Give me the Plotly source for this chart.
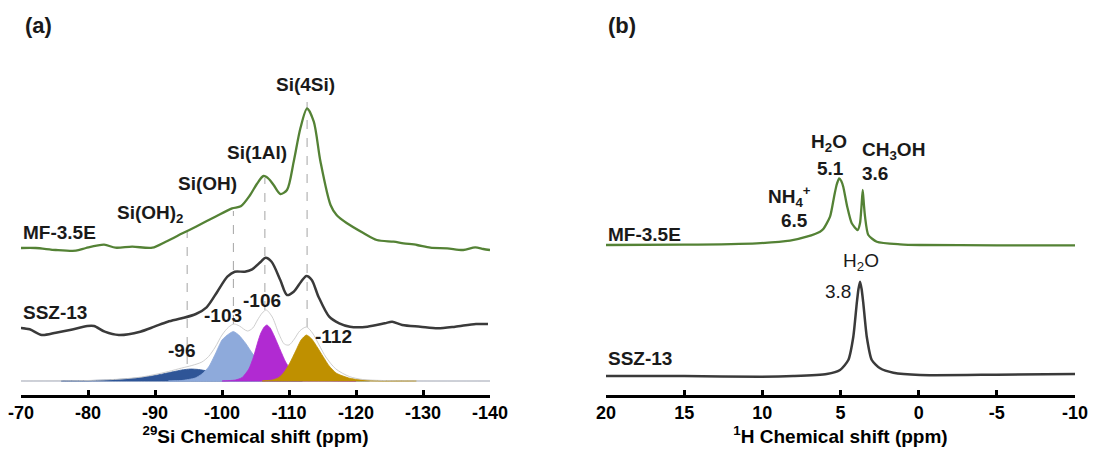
import plotly.graph_objects as go

# ---------------- Panel (a): 29Si MAS NMR ----------------
si_ticks = [-70, -80, -90, -100, -110, -120, -130, -140]
si_tick_text = ["-70", "-80", "-90", "-100", "-110", "-120", "-130", "-140"]

# MF-3.5E experiment (intensity above its own baseline)
si_mf_ppm = [-70, -72.2, -75.2, -78.2, -79.7, -82.4, -84.1, -86.6, -89.6, -91.6, -94.1, -96.1,
             -99.0, -101.5, -102.8, -104.2, -105.2, -106.2, -107.0, -107.7, -108.7, -109.7,
             -110.7, -111.7, -112.7, -113.7, -114.7, -116.2, -117.1, -118.6, -121.1, -123.1,
             -125.6, -127.1, -129.1, -131.1, -133.6, -136.0, -137.8, -139.0, -140]
si_mf_int = [0, 0, -2, -2.7, 0, 3.3, 0.3, 1.3, 0.3, 6.3, 14.7, 21.3,
             31.3, 39.7, 41.7, 53, 64, 72, 69, 63, 54, 58,
             86.3, 119.7, 139.7, 126.3, 86.3, 43, 33, 25, 15, 8,
             6.3, 4.7, 3, 0.3, -0.3, -2, 0.7, -1, -2]

# SSZ-13 experiment
si_ssz_ppm = [-69.7, -71.3, -73.1, -75.2, -77.3, -79.9, -80.9, -82.5, -84.6, -87.8, -89.9, -91.9,
              -94.0, -96.1, -97.7, -99.3, -100.8, -101.9, -103.4, -104.5, -105.8, -106.5, -107.4,
              -108.7, -109.7, -110.7, -111.8, -112.6, -113.4, -114.4, -116.0, -117.5, -119.1,
              -121.7, -124.3, -125.4, -126.9, -129.6, -132.2, -134.8, -137.9, -139.7]
si_ssz_int = [0.3, -1.3, -7, -4.7, -2, 2, 2, -3.7, -7, -3.7, 1.3, 6.3,
              9.7, 14, 20.7, 36.3, 51.3, 56.3, 56.3, 58.7, 66.3, 70.3, 66.3,
              48, 33, 36.3, 46.3, 52, 48, 31.3, 11.3, 4.7, 1.3,
              1.3, 4.7, 6.3, 3, 1.3, -0.3, 1.3, 4, 4]

# Simulation components
q96_ppm = [-76, -80, -83, -86, -88, -90, -92, -94, -95.3, -96.5, -98, -99.5, -101, -103, -105, -108, -112]
q96_int = [0, 0.4, 1.0, 2.2, 3.5, 5.5, 8.3, 11, 12, 11.5, 9.8, 7.5, 4.8, 2.2, 0.8, 0.2, 0]

q103_ppm = [-92, -94, -96, -97, -98, -99, -100, -101, -101.7, -102.5, -103.5, -104.5, -105.5,
            -106.5, -107.5, -108.5, -110, -112, -114, -118, -122]
q103_int = [0, 0.5, 3, 7, 14, 27, 41, 47, 49.5, 46, 38, 28, 20, 14, 9.5, 6.5, 3.8, 1.7, 0.6, 0.1, 0]

q106_ppm = [-100, -102, -103, -104, -104.7, -105.3, -105.8, -106.3, -106.7, -107.2, -107.8,
            -108.7, -109.5, -110.2, -111, -112.3, -114, -116, -120]
q106_int = [0, 1, 3.5, 12, 24, 38, 48, 54, 56, 53, 45, 31, 19, 12, 8, 4, 1.5, 0.5, 0]

q112_ppm = [-106, -107.5, -108.5, -109.3, -110.1, -111, -111.8, -112.6, -113.4, -114.2, -115.1,
            -116, -117.1, -119.1, -121.5, -125, -129]
q112_int = [0, 1, 3.5, 9, 17.7, 30, 41, 46, 42, 34, 24.3, 15, 7.7, 2.7, 0.7, 0.2, 0]

sim_ppm = [-70, -80, -85, -88, -90, -92, -94, -95.5, -97, -98, -99, -100, -101, -101.8, -102.6,
           -103.8, -104.6, -105.3, -106, -106.6, -107.5, -108.5, -109.3, -110, -110.8, -111.6,
           -112.6, -113.5, -114.5, -115.5, -117, -119, -121, -124, -130, -140]
sim_int = [0, 0.5, 2, 4, 6.5, 9.5, 13, 15.5, 19, 24.5, 34, 46, 54, 57, 55,
           50, 53, 61, 68, 71, 64, 47, 37, 36, 42, 50,
           54, 48, 36, 24, 12, 4.5, 1.5, 0.5, 0, 0]

# Peak marker positions (ppm) and label texts
si_peak_ppm = [-94.8, -101.7, -106.4, -112.7]
si_peak_lbl = ["-96", "-103", "-106", "-112"]
si_site_lbl = ["Si(OH)<sub>2</sub>", "Si(OH)", "Si(1Al)", "Si(4Si)"]

# ---------------- Panel (b): 1H MAS NMR ----------------
h_ticks = [20, 15, 10, 5, 0, -5, -10]
h_tick_text = ["20", "15", "10", "5", "0", "-5", "-10"]

h_mf_ppm = [20, 15, 10.36, 8.23, 7.16, 6.31, 6.10, 5.67, 5.41, 5.25, 5.09, 4.95, 4.82, 4.57, 4.28,
            3.90, 3.75, 3.66, 3.58, 3.50, 3.43, 3.22, 2.68, 1.19, -0.09, -5, -10]
h_mf_int = [0, 0.3, 1.7, 4.3, 8.3, 13.3, 16, 28.3, 48.3, 60, 66.7, 64, 58, 38.3, 21.7,
            15, 22, 38, 55, 40, 28.3, 10, 3.3, 0.7, 0, -0.3, -0.3]

h_ssz_ppm = [20, 15, 10.15, 8.02, 5.88, 5.03, 4.50, 4.18, 3.96, 3.85, 3.75, 3.65, 3.54, 3.32,
             3.00, 2.47, 1.62, -0.09, -5, -10]
h_ssz_int = [-1, -1, -1.7, -1, 1, 5, 15, 38.3, 71.7, 86, 93.3, 86, 71.7, 38.3,
             15, 6.7, 2.3, 0, 0.3, 1]

# ---------------- styling ----------------
GREEN = "#548235"
DARK = "#3a3a3a"
FONT = "Arial, Liberation Sans, sans-serif"
OFF_A_MF, OFF_A_SSZ, OFF_A_SIM = 147, 67, 14
OFF_B_MF, OFF_B_SSZ = 150, 20
YMAX = 395

fig = go.Figure()

def line(x, y, off, color, width, xa, ya, smooth=0.8):
    fig.add_trace(go.Scatter(x=x, y=[v + off for v in y], mode="lines", xaxis=xa, yaxis=ya,
                             line=dict(color=color, width=width, shape="spline", smoothing=smooth),
                             hoverinfo="skip", showlegend=False))

def filled(x, y, off, color):
    xs = list(x) + list(reversed(x))
    ys = [v + off for v in y] + [off] * len(x)
    fig.add_trace(go.Scatter(x=xs, y=ys, mode="lines", fill="toself", fillcolor=color,
                             line=dict(color=color, width=0.8, shape="spline", smoothing=0.6),
                             xaxis="x", yaxis="y", hoverinfo="skip", showlegend=False))

# dashed guide lines (a)
dash_top = [164, 184, 217, 295]
dash_bot = [31, 71, 85, 68]
for p, t, b in zip(si_peak_ppm, dash_top, dash_bot):
    fig.add_shape(type="line", xref="x", yref="y", x0=p, x1=p, y0=b, y1=t,
                  line=dict(color="#9a9a9a", width=0.9, dash="dash"), layer="below")

# faint simulation baseline
fig.add_trace(go.Scatter(x=[-70, -140], y=[OFF_A_SIM, OFF_A_SIM], mode="lines", xaxis="x", yaxis="y",
                         line=dict(color="#c3cadb", width=1.6), hoverinfo="skip", showlegend=False))
filled(q96_ppm, q96_int, OFF_A_SIM, "#2f5597")
filled(q103_ppm, q103_int, OFF_A_SIM, "#8eaadb")
filled(q106_ppm, q106_int, OFF_A_SIM, "#b12ad2")
filled(q112_ppm, q112_int, OFF_A_SIM, "#bf9000")
line(sim_ppm, sim_int, OFF_A_SIM, "#c8c8c8", 0.9, "x", "y")

line(si_mf_ppm, si_mf_int, OFF_A_MF, GREEN, 2.3, "x", "y")
line(si_ssz_ppm, si_ssz_int, OFF_A_SSZ, DARK, 2.5, "x", "y")

line(h_mf_ppm, h_mf_int, OFF_B_MF, GREEN, 2.3, "x2", "y2", 0.6)
line(h_ssz_ppm, h_ssz_int, OFF_B_SSZ, DARK, 2.5, "x2", "y2", 0.6)

ann = []
def txt(x, y, s, xr="x", yr="y", size=19, bold=True, color="#1a1a1a", xanchor="center"):
    ann.append(dict(x=x, y=y, xref=xr, yref=yr, text=s, showarrow=False, xanchor=xanchor,
                    yanchor="middle", font=dict(family=FONT, size=size, color=color,
                                                weight="bold" if bold else "normal")))

# panel labels
txt(23 / 1094, 1 - 26 / 459, "(a)", "paper", "paper", 22, xanchor="left")
txt(606 / 1094, 1 - 26 / 459, "(b)", "paper", "paper", 22, xanchor="left")

# (a) site labels
txt(-89.3, 181, si_site_lbl[0])
txt(-97.8, 212, si_site_lbl[1])
txt(-105.2, 243, si_site_lbl[2])
txt(-112.5, 311, si_site_lbl[3])
# (a) peak value labels
txt(-93.9, 45, si_peak_lbl[0])
txt(-100.1, 80, si_peak_lbl[1])
txt(-106.0, 95, si_peak_lbl[2])
txt(-116.6, 59, si_peak_lbl[3])
# (a) sample and trace names
txt(-70, 163, "MF-3.5E", xanchor="left")
txt(-70, 83, "SSZ-13", xanchor="left")
txt(-140.3, 176, "Experiment", bold=False, color="#333333", xanchor="right")
txt(-140.3, 88, "Experiment", bold=False, color="#333333", xanchor="right")
txt(-140.3, 25, "Simulation", bold=False, color="#333333", xanchor="right")

# (b) labels
txt(5.73, 252, "H<sub>2</sub>O", "x2", "y2")
txt(5.67, 227, "5.1", "x2", "y2")
txt(3.75, 244, "CH<sub>3</sub>OH", "x2", "y2", xanchor="left")
txt(3.75, 222, "3.6", "x2", "y2", xanchor="left")
txt(6.76, 199, "NH<sub>4</sub><sup>+</sup>", "x2", "y2", xanchor="right")
txt(6.95, 175, "6.5", "x2", "y2", xanchor="right")
txt(20, 161, "MF-3.5E", "x2", "y2", xanchor="left")
txt(3.69, 133, "H<sub>2</sub>O", "x2", "y2", bold=False)
txt(4.2, 104, "3.8", "x2", "y2", bold=False, xanchor="right")
txt(20, 37, "SSZ-13", "x2", "y2", xanchor="left")

axis_common = dict(showline=True, linecolor="black", linewidth=2.5, ticks="inside", ticklen=5,
                   tickwidth=2.5, tickcolor="black", showgrid=False, zeroline=False,
                   tickfont=dict(family=FONT, size=18, color="black", weight="bold"),
                   fixedrange=True, tickmode="array")

fig.update_layout(
    width=1094, height=459, margin=dict(l=0, r=0, t=0, b=0),
    paper_bgcolor="white", plot_bgcolor="white",
    annotations=ann,
    xaxis=dict(domain=[21 / 1094, 490 / 1094], range=[-70, -140], tickvals=si_ticks,
               ticktext=si_tick_text, anchor="y", automargin=False,
               title=dict(text="<sup>29</sup>Si Chemical shift (ppm)", standoff=8,
                          font=dict(family=FONT, size=19, color="black", weight="bold")),
               **axis_common),
    yaxis=dict(domain=[64 / 459, 1], range=[0, YMAX], visible=False, fixedrange=True),
    xaxis2=dict(domain=[606 / 1094, 1075 / 1094], range=[20, -10], tickvals=h_ticks,
                ticktext=h_tick_text, anchor="y2", automargin=False,
                title=dict(text="<sup>1</sup>H Chemical shift (ppm)", standoff=8,
                           font=dict(family=FONT, size=19, color="black", weight="bold")),
                **axis_common),
    yaxis2=dict(domain=[64 / 459, 1], range=[0, YMAX], visible=False, fixedrange=True, anchor="x2"),
)

fig.write_html("out.html")
